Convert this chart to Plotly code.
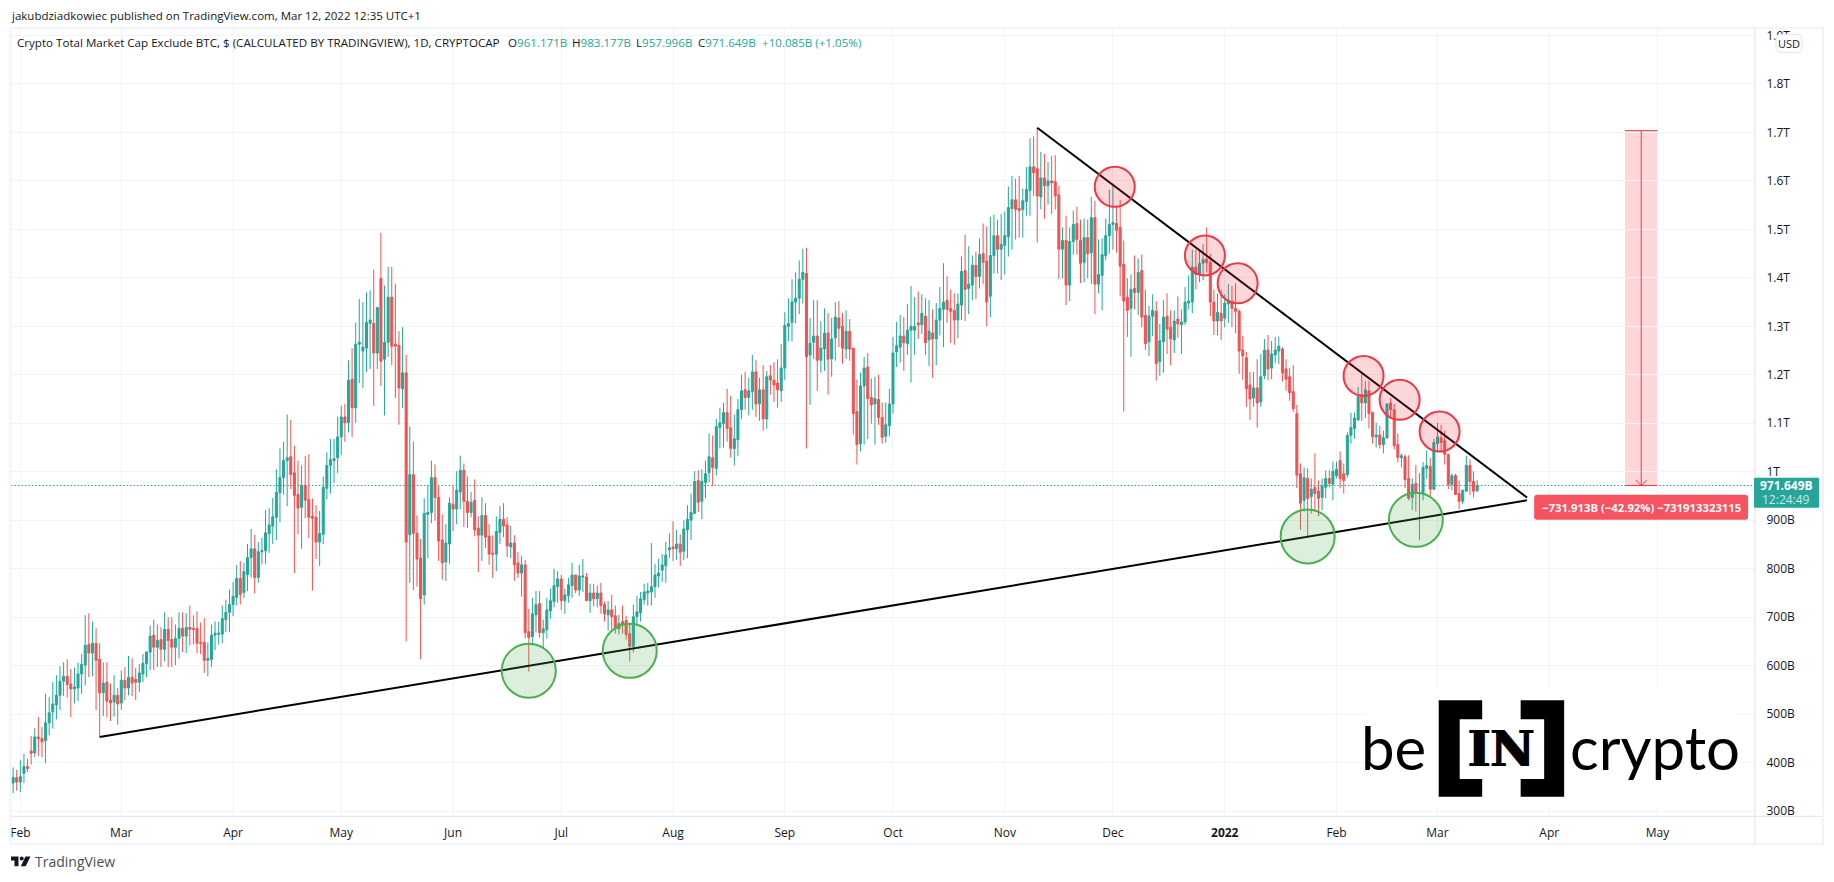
import pandas as pd
import plotly.graph_objects as go

# daily candles in billions of USD, one entry per day from firstDay
firstDay = "2021-01-30"
opens = [
    358,369,360,378,392,424,420,453,450,445, 482,505,519,539,568,578,562,552,554,583,
    601,644,626,646,613,544,566,529,525,539, 523,570,554,576,572,566,583,604,628,663,
    638,654,634,675,654,638,656,677,661,679, 677,677,648,648,611,613,663,665,665,695,
    710,726,741,780,751,788,823,841,782,835, 837,872,888,906,957,988,1023,1031,998,953,
    927,972,943,908,906,855,871,966,1013,1023, 1029,1072,1113,1101,1191,1132,1263,1249,1255,1306,
    1306,1245,1399,1232,1267,1360,1263,1261,1171,1204, 870,994,873,822,746,912,916,988,947,859,
    814,851,933,923,958,1003,939,916,941,884, 869,910,867,832,830,875,902,890,845,853,
    812,791,808,670,660,705,728,668,674,713, 732,763,779,734,744,765,787,756,783,783,
    734,750,738,750,726,705,715,703,676,691, 693,666,640,701,709,736,750,752,763,785,
    797,806,839,845,841,851,836,880,900,914, 982,939,978,998,1029,1007,1091,1099,1122,1091,
    1048,1066,1128,1169,1153,1165,1206,1140,1169,1109, 1198,1189,1183,1167,1214,1300,1308,1350,1358,1397,
    1409,1241,1267,1280,1230,1253,1286,1233,1276,1317, 1300,1253,1290,1255,1124,1058,1177,1216,1153,1140,
    1149,1112,1073,1095,1140,1247,1257,1280,1264,1292, 1292,1307,1303,1321,1272,1286,1274,1313,1335,1354,
    1337,1333,1313,1344,1415,1378,1385,1426,1403,1450, 1434,1362,1446,1487,1459,1467,1485,1543,1561,1543,
    1541,1557,1580,1629,1625,1567,1606,1590,1600,1598, 1571,1459,1477,1385,1475,1512,1477,1432,1483,1452,
    1524,1387,1405,1446,1487,1510,1512,1504,1428,1360, 1337,1378,1370,1415,1323,1268,1321,1331,1227,1268,
    1321,1298,1272,1315,1303,1309,1348,1350,1422,1409, 1430,1438,1432,1350,1311,1327,1317,1346,1352,1337,
    1331,1251,1235,1179,1152,1173,1144,1198,1251,1214, 1241,1249,1253,1212,1196,1165,1120,996,941,986,
    949,968,960,947,968,986,974,992,1023,996, 994,1075,1089,1107,1159,1142,1167,1122,1072,1076,
    1056,1070,1142,1128,1056,1029,1031,986,947,976, 955,957,1007,1011,964,1058,1070,1064,1036,974,
    992,955,939,960,1013,980,961.171]
highs = [
    390,385,405,418,408,455,471,494,474,542, 535,566,580,599,607,613,593,596,606,624,
    704,708,691,677,646,607,607,563,580,554, 590,597,620,615,595,603,624,630,683,695,
    685,679,710,700,700,685,710,710,708,724, 704,712,689,698,648,685,691,691,724,736,
    757,773,808,816,812,851,882,870,855,864, 921,925,946,1005,1048,1062,1118,1107,1054,1023,
    1013,1033,1036,945,931,919,990,1040,1068,1068, 1114,1136,1140,1230,1255,1308,1356,1350,1370,1374,
    1417,1339,1493,1384,1423,1423,1388,1290,1298,1241, 1093,1062,910,861,945,972,1023,1015,970,912,
    892,947,972,1001,1033,1017,990,958,984,908, 947,935,892,869,908,929,935,906,888,869,
    834,826,818,717,740,754,754,695,740,759, 800,795,787,759,781,812,787,808,820,791,
    769,769,765,771,732,733,746,724,705,724, 703,687,726,744,752,769,771,853,810,820,
    830,855,873,898,880,871,900,931,955,1001, 1003,1005,1023,1079,1075,1109,1132,1142,1171,1157,
    1118,1150,1200,1206,1194,1241,1230,1194,1220,1208, 1220,1226,1232,1263,1329,1358,1397,1411,1436,1460,
    1462,1317,1354,1354,1310,1337,1327,1317,1350,1352, 1327,1333,1315,1255,1190,1204,1237,1245,1192,1196,
    1200,1143,1143,1171,1278,1309,1323,1319,1346,1383, 1360,1372,1366,1358,1354,1335,1348,1381,1430,1403,
    1376,1368,1368,1444,1489,1465,1446,1454,1481,1512, 1506,1526,1530,1520,1532,1537,1588,1610,1604,1610,
    1584,1629,1688,1692,1709,1660,1656,1639,1651,1653, 1590,1504,1528,1504,1539,1547,1520,1522,1520,1567,
    1559,1479,1481,1522,1582,1594,1547,1561,1477,1399, 1407,1446,1440,1448,1376,1342,1366,1352,1305,1354,
    1368,1333,1333,1362,1335,1381,1405,1458,1458,1456, 1469,1504,1450,1376,1368,1376,1366,1387,1383,1389,
    1335,1280,1247,1206,1206,1232,1243,1274,1282,1270, 1278,1279,1257,1232,1214,1220,1138,1017,1009,1007,
    986,1038,982,986,1003,1003,1021,1021,1042,1017, 1081,1122,1122,1175,1204,1187,1187,1124,1101,1095,
    1085,1140,1152,1140,1079,1038,1036,1034,986,1014, 997,1020,1044,1029,1068,1101,1097,1085,1036,996,
    996,982,962,1033,1025,1001,983.177]
lows = [
    337,342,339,358,381,396,411,414,411,399, 456,470,489,508,537,534,494,522,527,542,
    559,576,578,508,453,496,493,486,495,478, 509,529,539,537,529,546,566,576,591,591,
    597,597,609,597,597,601,615,628,626,642, 644,626,624,585,578,597,632,644,646,669,
    669,702,724,726,739,754,782,749,771,809, 810,833,851,859,896,953,929,964,791,871,
    841,904,863,755,820,806,851,943,955,976, 997,1035,1062,1081,1072,1101,1183,1173,1206,1212,
    1136,1212,1177,1116,1237,1220,1152,1097,1132,650, 771,756,763,613,726,822,894,899,816,777,
    775,810,877,892,923,886,884,906,867,793, 816,843,808,781,795,851,865,824,822,775,
    781,742,656,588,642,668,658,637,656,697, 720,730,715,707,730,740,750,744,752,734,
    709,722,720,707,691,672,674,666,664,666, 654,609,627,685,691,726,724,724,740,761,
    773,771,822,816,818,806,818,822,859,914, 917,902,945,978,970,992,1048,1050,1062,1029,
    1013,1033,1109,1128,1116,1128,1113,1105,1085,1089, 1159,1144,1132,1144,1189,1269,1269,1306,1325,1347,
    1048,1138,1233,1167,1204,1208,1159,1196,1229,1257, 1223,1233,1229,1077,1015,1042,1056,1067,1099,1056,
    1097,1058,1060,1073,1120,1216,1225,1208,1241,1184, 1241,1274,1284,1241,1218,1194,1220,1281,1257,1307,
    1266,1262,1276,1313,1311,1325,1354,1356,1378,1387, 1300,1319,1409,1409,1395,1407,1444,1458,1479,1483,
    1483,1528,1528,1569,1473,1541,1522,1551,1532,1541, 1397,1399,1344,1352,1448,1448,1389,1391,1399,1387,
    1325,1368,1333,1436,1450,1458,1452,1362,1124,1278, 1237,1335,1323,1298,1251,1239,1280,1188,1198,1204,
    1243,1220,1245,1276,1243,1303,1335,1327,1376,1391, 1395,1411,1321,1282,1282,1272,1298,1307,1298,1286,
    1202,1190,1134,1107,1134,1091,1134,1191,1189,1191, 1224,1222,1186,1167,1146,1123,966,880,918,865,
    914,918,908,921,945,968,941,986,966,955, 988,1058,1068,1105,1105,1111,1089,1058,1050,1048,
    1038,1068,1109,1046,1019,1009,966,941,921,918, 859,941,986,949,962,1041,1040,1015,964,962,
    952,923,933,958,952,947,957.996]
closes = [
    369,360,371,392,388,419,453,450,443,482, 503,521,539,568,578,561,552,556,583,603,
    642,626,646,611,544,564,527,523,539,521, 570,554,576,564,566,585,605,628,661,638,
    652,634,675,652,638,656,677,661,679,675, 675,646,646,611,615,663,667,667,697,710,
    726,743,780,747,794,823,841,782,835,837, 874,890,907,957,988,1023,1029,994,951,925,
    972,941,906,904,855,873,968,1013,1025,1027, 1072,1113,1101,1189,1132,1263,1267,1257,1308,1313,
    1245,1339,1228,1267,1360,1259,1259,1173,1204,855, 994,873,820,738,914,916,988,947,857,812,
    853,935,923,962,1003,939,916,937,880,869, 910,865,830,830,877,902,888,847,853,808,
    791,808,668,658,707,726,668,676,715,734, 765,779,734,746,767,787,756,785,785,734,
    750,738,750,724,707,715,701,676,687,685, 664,640,701,711,738,752,754,763,787,791,
    808,828,843,841,851,834,882,902,916,980, 937,980,996,1031,1009,1093,1101,1122,1089,1048,
    1068,1128,1167,1153,1167,1206,1140,1169,1109,1196, 1189,1179,1169,1214,1302,1306,1350,1358,1397,1411,
    1237,1265,1280,1230,1255,1286,1232,1274,1319,1296, 1255,1290,1253,1120,1056,1177,1214,1151,1138,1151,
    1112,1071,1097,1140,1245,1260,1280,1266,1292,1300, 1300,1303,1327,1266,1290,1274,1313,1337,1350,1335,
    1331,1313,1346,1413,1376,1387,1426,1403,1448,1432, 1350,1446,1487,1459,1469,1487,1545,1561,1541,1539,
    1559,1582,1629,1617,1569,1606,1590,1600,1596,1569, 1459,1477,1385,1475,1510,1479,1430,1483,1450,1524,
    1387,1407,1448,1487,1510,1514,1498,1424,1352,1333, 1376,1370,1411,1319,1264,1321,1333,1223,1270,1319,
    1294,1274,1311,1305,1309,1350,1352,1422,1407,1430, 1438,1431,1350,1311,1329,1311,1348,1354,1337,1331,
    1249,1239,1171,1150,1173,1142,1196,1251,1212,1243, 1251,1259,1204,1191,1163,1130,993,935,988,945,
    964,955,945,970,986,976,1001,1005,986,982, 1075,1091,1111,1155,1142,1169,1120,1072,1076,1056,
    1070,1140,1128,1054,1029,1033,984,945,974,955, 957,1009,1013,964,1060,1072,1060,1036,974,992,
    953,939,962,1013,980,960,971.649]
dates = pd.date_range(firstDay, periods=len(closes), freq="D")
lastPrice = closes[-1]

tickDates = ["2021-02-01","2021-03-01","2021-04-01","2021-05-01","2021-06-01","2021-07-01","2021-08-01",
             "2021-09-01","2021-10-01","2021-11-01","2021-12-01","2022-01-01","2022-02-01","2022-03-01",
             "2022-04-01","2022-05-01"]
tickMonths = ["Feb","Mar","Apr","May","Jun","Jul","Aug","Sep","Oct","Nov","Dec","<b>2022</b>","Feb","Mar","Apr","May"]
priceTicks = [300,400,500,600,700,800,900,1000,1100,1200,1300,1400,1500,1600,1700,1800,1900]
priceLabels = ["300B","400B","500B","600B","700B","800B","900B","1T","1.1T","1.2T","1.3T","1.4T","1.5T","1.6T","1.7T","1.8T","1.9T"]

# drawings on the chart
supportDates = ["2021-02-23","2022-03-25 19:00"]
supportValues = [453,941]
resistDates = ["2021-11-10","2022-03-25 20:00"]
resistValues = [1709.5,947]
greenDates = ["2021-06-22","2021-07-20","2022-01-24","2022-02-23"]
greenValues = [589.6,630.6,866.6,900.8]
redDates = ["2021-12-01 12:00","2021-12-26 12:00","2022-01-04 14:00","2022-02-08 12:00","2022-02-18 12:00","2022-03-01 14:00"]
redValues = [1587.8,1446.2,1388.7,1197.7,1148.4,1082.8]
rangeStart = "2022-04-22"
rangeEnd = "2022-05-01"
rangeMid = "2022-04-26 12:00"
rangeTop = 1703.6
rangeBottom = lastPrice

green = "#26a69a"
red = "#ef5350"
drawRed = "#f23645"
drawGreen = "#4caf50"
textColor = "#131722"
uiFont = "Open Sans"
width = 1834
height = 882
plotLeft = 10
plotRight = 1755
plotTop = 27
plotBottom = 819

def fx(x):
    return x/width

def fy(y):
    return 1-y/height

def poly(points):
    '''closed path in paper coordinates from pixel points'''
    parts = ["%s %.5f %.5f" % ("M" if i == 0 else "L", fx(p[0]), fy(p[1])) for i,p in enumerate(points)]
    return " ".join(parts) + " Z"

def round_box(x0,y0,x1,y1,r):
    '''rounded rectangle path in paper coordinates'''
    return ("M %.5f %.5f L %.5f %.5f Q %.5f %.5f %.5f %.5f L %.5f %.5f Q %.5f %.5f %.5f %.5f "
            "L %.5f %.5f Q %.5f %.5f %.5f %.5f L %.5f %.5f Q %.5f %.5f %.5f %.5f Z") % (
            fx(x0+r),fy(y0), fx(x1-r),fy(y0), fx(x1),fy(y0), fx(x1),fy(y0+r),
            fx(x1),fy(y1-r), fx(x1),fy(y1), fx(x1-r),fy(y1),
            fx(x0+r),fy(y1), fx(x0),fy(y1), fx(x0),fy(y1-r),
            fx(x0),fy(y0+r), fx(x0),fy(y0), fx(x0+r),fy(y0))

def paper_shape(path,fill,line="rgba(0,0,0,0)",lw=0):
    return dict(type="path",xref="paper",yref="paper",path=path,fillcolor=fill,
                line=dict(color=line,width=lw),layer="above")

def paper_line(x0,y0,x1,y1,color,lw):
    return dict(type="line",xref="paper",yref="paper",x0=fx(x0),y0=fy(y0),x1=fx(x1),y1=fy(y1),
                line=dict(color=color,width=lw),layer="above")

def label(x,y,text,size=12,color=textColor,anchor="left",family=uiFont):
    return dict(xref="paper",yref="paper",x=fx(x),y=fy(y),text=text,showarrow=False,xanchor=anchor,
                yanchor="middle",font=dict(family=family,size=size,color=color),borderpad=0)

fig = go.Figure()
fig.add_trace(go.Candlestick(x=dates,open=opens,high=highs,low=lows,close=closes,
                             increasing=dict(line=dict(color=green,width=1),fillcolor=green),
                             decreasing=dict(line=dict(color=red,width=1),fillcolor=red),
                             whiskerwidth=0,hoverinfo="skip",showlegend=False))
fig.add_trace(go.Scatter(x=supportDates,y=supportValues,mode="lines",line=dict(color="#000000",width=2),
                         hoverinfo="skip",showlegend=False))
fig.add_trace(go.Scatter(x=resistDates,y=resistValues,mode="lines",line=dict(color="#000000",width=2),
                         hoverinfo="skip",showlegend=False))
fig.add_trace(go.Scatter(x=greenDates,y=greenValues,mode="markers",hoverinfo="skip",showlegend=False,
                         marker=dict(size=54,color="rgba(76,175,80,0.2)",line=dict(color=drawGreen,width=2))))
fig.add_trace(go.Scatter(x=redDates,y=redValues,mode="markers",hoverinfo="skip",showlegend=False,
                         marker=dict(size=40,color="rgba(242,54,69,0.2)",line=dict(color=drawRed,width=2))))
# price range tool: stem and arrow head
fig.add_trace(go.Scatter(x=[rangeMid,rangeMid],y=[rangeTop,rangeBottom],mode="lines",
                         line=dict(color=drawRed,width=1),hoverinfo="skip",showlegend=False))
fig.add_trace(go.Scatter(x=["2022-04-25","2022-04-26 12:00","2022-04-28"],y=[rangeBottom+11,rangeBottom,rangeBottom+11],
                         mode="lines",line=dict(color=drawRed,width=1),hoverinfo="skip",showlegend=False))

shapes = [
    dict(type="line",xref="paper",yref="y",x0=fx(plotLeft),x1=fx(plotRight),y0=lastPrice,y1=lastPrice,
         line=dict(color=green,width=1,dash="1.5px,2px"),layer="below"),
    dict(type="rect",xref="x",yref="y",x0=rangeStart,x1=rangeEnd,y0=rangeBottom,y1=rangeTop,
         fillcolor="rgba(242,54,69,0.2)",line=dict(width=0),layer="below"),
    dict(type="line",xref="x",yref="y",x0=rangeStart,x1=rangeEnd,y0=rangeTop,y1=rangeTop,
         line=dict(color=drawRed,width=1)),
    dict(type="line",xref="x",yref="y",x0=rangeStart,x1=rangeEnd,y0=rangeBottom,y1=rangeBottom,
         line=dict(color=drawRed,width=1)),
    # white strip that cuts the top price label, frame and axis separators
    dict(type="rect",xref="paper",yref="paper",x0=fx(1756),x1=fx(1822),y0=fy(28),y1=fy(20),
         fillcolor="white",line=dict(width=0),layer="above"),
    dict(type="rect",xref="paper",yref="paper",x0=fx(9.5),x1=fx(1823),y0=fy(847),y1=fy(27),
         fillcolor="rgba(0,0,0,0)",line=dict(color="#f0f3fa",width=2),layer="above"),
    paper_line(plotRight,plotTop,plotRight,846,"#e0e3eb",1),
    paper_line(plotLeft,plotBottom,1822,plotBottom,"#e0e3eb",1),
    # last price box, range label, currency button
    paper_shape(round_box(1754,479,1819,509,1),green),
    paper_shape(round_box(1534,496,1748,521,3),"#f7525f"),
    paper_shape(round_box(1776,33.5,1802,51.5,5),"#ffffff","#e0e3eb",1),
    # TradingView mark
    paper_shape(poly([(10,859.5),(17.5,859.5),(17.5,869.3),(13.5,869.3),(13.5,863.5),(10,863.5)]),textColor),
    paper_shape(poly([(24.5,859.5),(29.5,859.5),(24.7,869.3),(19.8,869.3)]),textColor),
    dict(type="circle",xref="paper",yref="paper",x0=fx(18.7),x1=fx(22.7),y0=fy(863.5),y1=fy(859.5),
         fillcolor=textColor,line=dict(width=0),layer="above"),
    # beincrypto logo: white backing and the two brackets
    dict(type="rect",xref="paper",yref="paper",x0=fx(1366),x1=fx(1738),y0=fy(811),y1=fy(690),
         fillcolor="white",line=dict(width=0),layer="above"),
    paper_shape(poly([(1438.5,702.5),(1482,702.5),(1482,721.5),(1459.5,721.5),(1459.5,781.5),(1482,781.5),
                      (1482,799.5),(1438.5,799.5)]),"#000000"),
    paper_shape(poly([(1520.5,702.5),(1564,702.5),(1564,799.5),(1520.5,799.5),(1520.5,781.5),(1544,781.5),
                      (1544,721.5),(1520.5,721.5)]),"#000000"),
]

def ohlc(letter,value):
    return letter + '<span style="color:%s">%s</span>' % (green,value)

legendSize = 11.6
logoIN = label(1501,751,"<b>IN</b>",size=48,color="#000000",anchor="center",family="DejaVu Serif")
logoIN["font"]["shadow"] = "1px 0 #000000, -1px 0 #000000"
annotations = [
    label(8.6,15,"jakubdziadkowiec published on TradingView.com, Mar 12, 2022 12:35 UTC+1",size=11.5),
    label(15,41.5,"Crypto Total Market Cap Exclude BTC, $ (CALCULATED BY TRADINGVIEW), 1D, CRYPTOCAP",size=legendSize),
    label(506,41.5,ohlc("O","961.171B"),size=legendSize),
    label(570,41.5,ohlc("H","983.177B"),size=legendSize),
    label(634,41.5,ohlc("L","957.996B"),size=legendSize),
    label(696,41.5,ohlc("C","971.649B"),size=legendSize),
    label(760,41.5,"+10.085B (+1.05%)",size=legendSize,color=green),
    label(33,864,"TradingView",size=14,color="#4a4e59"),
    label(1789,43,"USD",size=11,anchor="center"),
    label(1786,487,"<b>971.649B</b>",size=12,color="#ffffff",anchor="center"),
    label(1786,501,"12:24:49",size=12,color="#c8ebe7",anchor="center"),
    label(1641,508.5,"<b>\u2212731.913B (\u221242.92%) \u2212731913323115</b>",size=11.3,color="#ffffff",anchor="center"),
    label(1360,749,"be",size=60,color="#000000",family="Lato"),
    label(1569,749,"crypto",size=60,color="#000000",family="Lato"),
    logoIN,
]

fig.update_layout(
    width=width,height=height,margin=dict(l=0,r=0,t=0,b=0),
    paper_bgcolor="white",plot_bgcolor="white",showlegend=False,dragmode=False,boxgap=0.2,
    shapes=shapes,annotations=annotations,
    font=dict(family=uiFont,size=12,color=textColor),
    xaxis=dict(domain=[fx(plotLeft),fx(plotRight)],range=["2021-01-29 09:50","2022-05-28 01:30"],
               rangeslider=dict(visible=False),type="date",tickmode="array",tickvals=tickDates,ticktext=tickMonths,
               showgrid=True,gridcolor="#f0f3fa",gridwidth=1,zeroline=False,showline=False,
               ticks="outside",ticklen=5,tickcolor="rgba(0,0,0,0)",tickfont=dict(size=12,color=textColor)),
    yaxis=dict(domain=[fy(plotBottom),fy(plotTop)],range=[289.3,1915.6],side="right",tickmode="array",
               tickvals=priceTicks,ticktext=priceLabels,showgrid=True,gridcolor="#f0f3fa",gridwidth=1,
               zeroline=False,showline=False,ticks="outside",ticklen=8,tickcolor="rgba(0,0,0,0)",
               tickfont=dict(size=12,color=textColor)),
)

fig.write_html("out.html",config={"displayModeBar":False},
               post_script="document.body.style.margin='0';document.documentElement.style.overflow='hidden';document.body.style.overflow='hidden';")
